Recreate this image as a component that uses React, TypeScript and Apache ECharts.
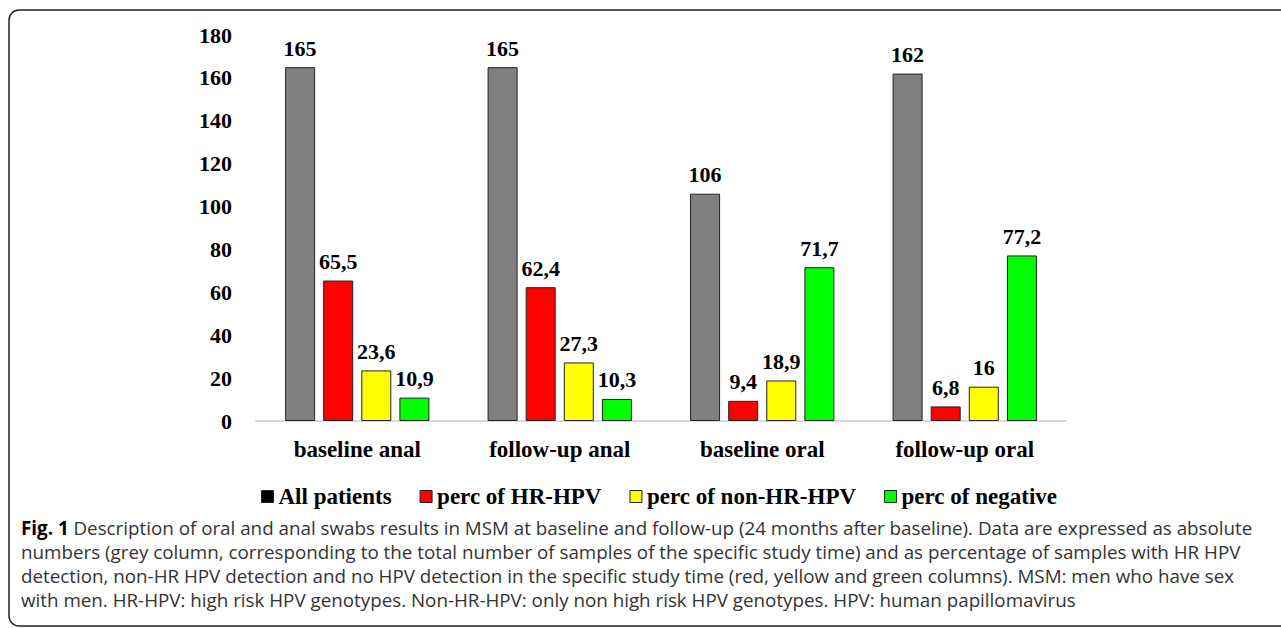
import React, { useEffect, useRef } from "react";
import * as echarts from "echarts";

const categories = ["baseline anal", "follow-up anal", "baseline oral", "follow-up oral"];
const allPatients = [165, 165, 106, 162];
const percHR = [65.5, 62.4, 9.4, 6.8];
const percNonHR = [23.6, 27.3, 18.9, 16];
const percNegative = [10.9, 10.3, 71.7, 77.2];
const seriesNames = ["All patients", "perc of HR-HPV", "perc of non-HR-HPV", "perc of negative"];
const seriesColors = ["#808080", "#ff0000", "#ffff00", "#00ff00"];
const legendColors = ["#000000", "#ff0000", "#ffff00", "#00ff00"];
const captionLines = [
  "Description of oral and anal swabs results in MSM at baseline and follow-up (24 months after baseline). Data are expressed as absolute",
  "numbers (grey column, corresponding to the total number of samples of the specific study time) and as percentage of samples with HR HPV",
  "detection, non-HR HPV detection and no HPV detection in the specific study time (red, yellow and green columns). MSM: men who have sex",
  "with men. HR-HPV: high risk HPV genotypes. Non-HR-HPV: only non high risk HPV genotypes. HPV: human papillomavirus",
];

const SERIF = "'Liberation Serif', 'Times New Roman', serif";
const SANS = "'Open Sans', 'Noto Sans', sans-serif";

export default function App() {
  const ref = useRef<HTMLDivElement>(null);
  useEffect(() => {
    if (!ref.current) return;
    const chart = echarts.init(ref.current, null, { renderer: "svg" });
    const data = [allPatients, percHR, percNonHR, percNegative];
    const labelText = {
      fontFamily: SERIF,
      fontWeight: "bold" as const,
      fontSize: 22,
      color: "#000",
    };
    const captionY = [528, 552, 576, 600];
    chart.setOption({
      animation: false,
      backgroundColor: "#fff",
      grid: { left: 256, right: 215, top: 35, bottom: 207 },
      xAxis: {
        type: "category",
        data: categories,
        axisLine: { show: true, lineStyle: { color: "#d9d9d9", width: 2 } },
        axisTick: { show: false },
        axisLabel: { ...labelText, fontSize: 23, margin: 17 },
      },
      yAxis: {
        type: "value",
        min: 0,
        max: 180,
        interval: 20,
        splitLine: { show: false },
        axisLine: { show: false },
        axisTick: { show: false },
        axisLabel: { ...labelText, margin: 24 },
      },
      legend: {
        left: 256,
        top: 480,
        itemWidth: 12,
        itemHeight: 12,
        itemGap: 28,
        icon: "rect",
        textStyle: { ...labelText, fontSize: 23 },
        data: seriesNames.map((n, i) => ({
          name: n,
          itemStyle: { color: legendColors[i], borderColor: "#222", borderWidth: 1 },
        })),
      },
      series: seriesNames.map((n, i) => ({
        name: n,
        type: "bar",
        data: data[i],
        barWidth: 30,
        barGap: "27%",
        itemStyle: { color: seriesColors[i], borderColor: "#222", borderWidth: 1 },
        label: {
          show: true,
          position: "top",
          distance: 8,
          ...labelText,
          formatter: (p: any) => String(p.value).replace(".", ","),
        },
      })),
      graphic: [
        {
          type: "rect",
          shape: { x: 9, y: 10, width: 1320, height: 616, r: 10 },
          style: { fill: "none", stroke: "#222", lineWidth: 1.5 },
          silent: true,
        },
        ...captionLines.map((line, i) => ({
          type: "text",
          x: 21,
          y: captionY[i],
          style: {
            text: i === 0 ? "{b|Fig. 1} " + line : line,
            fontFamily: SANS,
            fontSize: 18.8,
            fill: "#333",
            verticalAlign: "middle",
            rich: {
              b: { fontFamily: SANS, fontSize: 18.8, fontWeight: "bold", fill: "#000" },
            },
          },
        })),
      ],
    });
    return () => chart.dispose();
  }, []);
  return (
    <div
      ref={ref}
      style={{ position: "absolute", left: 0, top: 0, width: 1281, height: 628 }}
    />
  );
}
